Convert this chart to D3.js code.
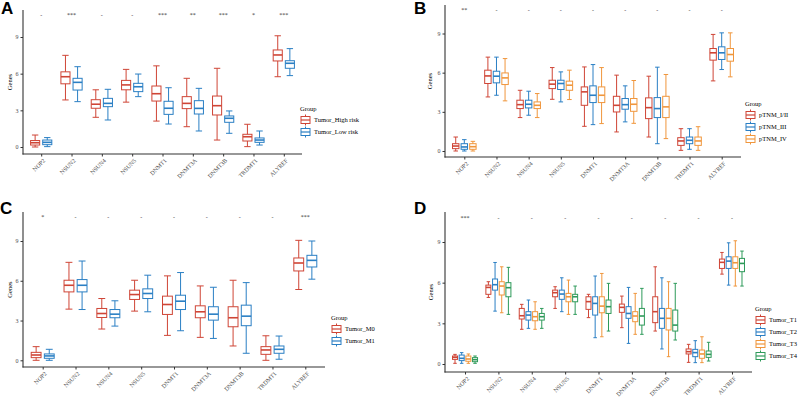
<!DOCTYPE html>
<html>
<head>
<meta charset="utf-8">
<script src="https://cdn.jsdelivr.net/npm/d3@7"></script>
<style>
  body { margin: 0; background: #fff; }
  text { font-family: "Liberation Serif", "Times New Roman", serif; }
</style>
</head>
<body>
<script>
// genes on the x axis, shared by all four panels
const genes = ["NOP2", "NSUN2", "NSUN4", "NSUN5", "DNMT1", "DNMT3A", "DNMT3B", "TRDMT1", "ALYREF"];
const yTicks = [0, 3, 6, 9];

// each row: [lower whisker, Q1, median, Q3, upper whisker]
// A: risk group
const highRisk = [[0, 0.16, 0.35, 0.53, 0.98], [3.85, 5.17, 5.75, 6.15, 7.5], [2.43, 3.17, 3.5, 3.87, 4.68],
  [3.67, 4.68, 5.08, 5.45, 6.35], [2.12, 3.76, 4.36, 4.99, 6.64], [1.66, 3.14, 3.57, 4.12, 5.62],
  [0.57, 2.62, 3.38, 4.17, 6.44], [0.03, 0.49, 0.84, 1.04, 1.86], [5.75, 7.04, 7.53, 7.94, 9.1]];
const lowRisk = [[0.03, 0.19, 0.38, 0.57, 0.77], [3.71, 4.66, 5.29, 5.62, 6.57], [2.21, 3.3, 3.57, 3.98, 4.72],
  [4.12, 4.53, 4.93, 5.21, 5.97], [1.88, 2.67, 3.17, 3.74, 4.85], [1.31, 2.7, 3.16, 3.79, 4.8],
  [1.12, 2.02, 2.35, 2.54, 2.95], [0.16, 0.38, 0.57, 0.74, 1.31], [5.84, 6.44, 6.85, 7.06, 8.05]];
const sigA = ["-", "***", "-", "-", "***", "**", "***", "*", "***"];

// B: pTNM stage
const tnmI_II = [[0, 0.18, 0.38, 0.56, 1.07], [4.14, 5.17, 5.75, 6.19, 7.19], [2.56, 3.25, 3.55, 3.89, 4.65],
  [3.96, 4.78, 5.12, 5.42, 6.39], [1.89, 3.5, 4.53, 4.91, 6.44], [1.46, 2.99, 3.5, 4.19, 5.81],
  [1.07, 2.48, 3.32, 4.07, 5.73], [0.05, 0.43, 0.77, 1.02, 1.71], [5.37, 6.96, 7.52, 7.85, 8.93]];
const tnmIII = [[0, 0.13, 0.31, 0.56, 0.87], [4.27, 5.22, 5.73, 6.11, 7.19], [2.74, 3.3, 3.58, 3.89, 4.58],
  [3.76, 4.71, 5.17, 5.42, 6.06], [2.02, 3.71, 4.27, 4.99, 6.62], [2.23, 3.2, 3.55, 4.02, 4.99],
  [0.56, 2.56, 3.25, 4.09, 6.42], [0.13, 0.56, 0.82, 1.07, 1.71], [6.24, 7.01, 7.52, 7.98, 9.05]];
const tnmIV = [[0, 0.13, 0.33, 0.56, 0.74], [3.84, 5.09, 5.6, 5.98, 7.08], [2.56, 3.25, 3.5, 3.76, 4.4],
  [3.94, 4.65, 5.04, 5.35, 6.19], [2.1, 3.71, 4.27, 4.91, 6.39], [2.12, 3.04, 3.58, 4.02, 5.4],
  [0.95, 2.56, 3.38, 4.19, 5.86], [0.05, 0.43, 0.77, 1.07, 1.86], [5.68, 6.88, 7.39, 7.85, 9.05]];
const sigB = ["**", "-", "-", "-", "-", "-", "-", "-", "-"];

// C: M stage
const tumorM0 = [[0, 0.2, 0.4, 0.6, 1.03], [3.86, 5.16, 5.66, 6.04, 7.39], [2.36, 3.23, 3.53, 3.91, 4.66],
  [3.71, 4.59, 4.96, 5.29, 6.04], [1.88, 3.46, 4.21, 4.84, 6.37], [1.73, 3.21, 3.66, 4.11, 5.61],
  [1.08, 2.53, 3.21, 4.04, 6.04], [0, 0.45, 0.78, 1.03, 1.85], [5.34, 6.74, 7.34, 7.72, 9.05]];
const tumorM1 = [[0, 0.15, 0.33, 0.48, 0.83], [3.83, 5.16, 5.66, 6.09, 7.49], [2.58, 3.21, 3.48, 3.83, 4.49],
  [3.66, 4.66, 5.04, 5.39, 6.42], [2.23, 3.83, 4.46, 4.91, 6.62], [1.65, 3.03, 3.48, 4.04, 5.51],
  [0.53, 2.61, 3.33, 4.16, 5.86], [0.08, 0.53, 0.83, 1.08, 1.83], [6.12, 7.04, 7.54, 7.92, 9.0]];
const sigC = ["*", "-", "-", "-", "-", "-", "-", "-", "***"];

// D: T stage
const tumorT1 = [[0.05, 0.34, 0.49, 0.59, 0.71], [4.91, 5.14, 5.65, 5.82, 6.07], [2.56, 3.32, 3.56, 4.1, 4.4],
  [4.1, 4.96, 5.26, 5.45, 5.7], [3.42, 4.03, 4.6, 4.96, 5.14], [2.68, 3.81, 4.18, 4.42, 5.01],
  [2.43, 3.05, 3.86, 4.96, 7.17], [0.12, 0.74, 0.91, 1.11, 1.45], [6.63, 7.05, 7.5, 7.74, 8.23]];
const tumorT2 = [[0.05, 0.25, 0.42, 0.66, 0.84], [3.9, 5.45, 5.85, 6.27, 7.49], [2.63, 3.24, 3.61, 3.86, 4.72],
  [3.86, 4.77, 5.16, 5.45, 6.36], [1.94, 3.61, 4.47, 4.96, 6.49], [1.52, 3.37, 3.73, 4.23, 5.65],
  [1.11, 2.63, 3.37, 4.1, 6.36], [0.1, 0.54, 0.84, 1.08, 1.72], [5.82, 7.05, 7.59, 7.91, 8.94]];
const tumorT3 = [[0.05, 0.2, 0.37, 0.59, 0.74], [3.78, 5.09, 5.75, 6.07, 7.17], [2.56, 3.19, 3.49, 3.86, 4.59],
  [3.66, 4.59, 4.96, 5.21, 6.19], [2.01, 3.78, 4.27, 4.96, 6.68], [2.19, 3.12, 3.54, 3.86, 5.21],
  [0.54, 2.51, 3.37, 4.1, 6.07], [0.1, 0.42, 0.74, 1.03, 2.01], [5.75, 7.05, 7.47, 7.91, 9.09]];
const tumorT4 = [[0.05, 0.17, 0.32, 0.47, 0.59], [3.66, 4.96, 5.63, 6.0, 7.13], [2.63, 3.24, 3.49, 3.73, 4.1],
  [3.66, 4.59, 4.96, 5.14, 5.75], [2.43, 3.73, 4.23, 4.72, 5.95], [2.19, 2.87, 3.54, 4.1, 5.58],
  [1.77, 2.43, 2.87, 3.98, 5.95], [0.22, 0.49, 0.71, 0.96, 1.6], [5.75, 6.81, 7.42, 7.79, 8.33]];
const sigD = ["***", "-", "-", "-", "-", "-", "-", "-", "-"];

const red = "#cf4536", blue = "#2a7fc4", orange = "#f0963c", green = "#2e9a5a";

// layout of the four panels (pixel frame of each plot area)
const panels = [
  { tag: "A", left: 23, right: 302, top: 10, bottom: 154, y0: 147, y9: 37, sig: sigA,
    groups: ["Tumor_High risk", "Tumor_Low risk"], series: [highRisk, lowRisk], colors: [red, blue],
    tagX: 1, tagY: 14, titleX: 12, legX: 300, legY: 111 },
  { tag: "B", left: 445, right: 741, top: 5, bottom: 157, y0: 151, y9: 33.5, sig: sigB,
    groups: ["pTNM_I/II", "pTNM_III", "pTNM_IV"], series: [tnmI_II, tnmIII, tnmIV], colors: [red, blue, orange],
    tagX: 414, tagY: 14, titleX: 432, legX: 745, legY: 106 },
  { tag: "C", left: 23, right: 325, top: 212, bottom: 367, y0: 360.3, y9: 241, sig: sigC,
    groups: ["Tumor_M0", "Tumor_M1"], series: [tumorM0, tumorM1], colors: [red, blue],
    tagX: 0, tagY: 214, titleX: 12, legX: 331, legY: 320 },
  { tag: "D", left: 445, right: 752, top: 212, bottom: 372, y0: 364, y9: 242, sig: sigD,
    groups: ["Tumor_T1", "Tumor_T2", "Tumor_T3", "Tumor_T4"], series: [tumorT1, tumorT2, tumorT3, tumorT4],
    colors: [red, blue, orange, green],
    tagX: 414, tagY: 214, titleX: 433, legX: 755, legY: 311 }
];

const svg = d3.select("body").append("svg")
  .attr("width", 800)
  .attr("height", 399);

function drawPanel(p) {
  const g = svg.append("g");

  const x = d3.scalePoint().domain(genes).range([p.left, p.right]).padding(0.6);
  const step = x.step();
  const k = p.groups.length;
  const dodge = d3.scaleBand().domain(d3.range(k)).range([-0.4 * step, 0.4 * step]);
  const boxW = 0.6 * step / k;
  const y = d3.scaleLinear().domain([0, 9]).range([p.y0, p.y9]);

  // axes
  const yAxis = g.append("g")
    .attr("transform", `translate(${p.left},0)`)
    .call(d3.axisLeft(y).tickValues(yTicks).tickSize(2.5).tickPadding(2));
  yAxis.select(".domain").remove();
  yAxis.selectAll("line").attr("stroke", "#333");
  yAxis.selectAll("text").attr("fill", "#4d4d4d").style("font-size", "6px")
    .style("font-family", "Liberation Serif, serif");

  const xAxis = g.append("g")
    .attr("transform", `translate(0,${p.bottom})`)
    .call(d3.axisBottom(x).tickSize(2.5));
  xAxis.select(".domain").remove();
  xAxis.selectAll("line").attr("stroke", "#333");
  xAxis.selectAll("text")
    .attr("fill", "#4d4d4d")
    .style("font-size", "6px")
    .style("font-family", "Liberation Serif, serif")
    .attr("y", 0).attr("dy", "0.71em")
    .attr("text-anchor", "end")
    .attr("transform", "translate(1,4) rotate(-45)");

  g.append("line").attr("x1", p.left).attr("x2", p.left).attr("y1", p.top).attr("y2", p.bottom + 0.5)
    .attr("stroke", "#333").attr("stroke-width", 1.1);
  g.append("line").attr("x1", p.left - 0.5).attr("x2", p.right).attr("y1", p.bottom).attr("y2", p.bottom)
    .attr("stroke", "#333").attr("stroke-width", 1.1);

  g.append("text")
    .attr("transform", `translate(${p.titleX},${(p.top + p.bottom) / 2}) rotate(-90)`)
    .attr("text-anchor", "middle")
    .style("font-size", "6.5px")
    .text("Genes");

  // boxes
  p.series.forEach((rows, j) => {
    const col = p.colors[j];
    const grp = g.append("g").attr("stroke", col).attr("fill", "none");
    rows.forEach((s, i) => {
      const cx = x(genes[i]) + dodge(j) + dodge.bandwidth() / 2;
      const cap = boxW * 0.7;
      grp.append("line").attr("x1", cx).attr("x2", cx).attr("y1", y(s[4])).attr("y2", y(s[3])).attr("stroke-width", 1);
      grp.append("line").attr("x1", cx).attr("x2", cx).attr("y1", y(s[1])).attr("y2", y(s[0])).attr("stroke-width", 1);
      grp.append("line").attr("x1", cx - cap / 2).attr("x2", cx + cap / 2).attr("y1", y(s[4])).attr("y2", y(s[4])).attr("stroke-width", 1);
      grp.append("line").attr("x1", cx - cap / 2).attr("x2", cx + cap / 2).attr("y1", y(s[0])).attr("y2", y(s[0])).attr("stroke-width", 1);
      grp.append("rect")
        .attr("x", cx - boxW / 2).attr("width", boxW)
        .attr("y", y(s[3])).attr("height", y(s[1]) - y(s[3]))
        .attr("stroke-width", 1);
      grp.append("line").attr("x1", cx - boxW / 2).attr("x2", cx + boxW / 2)
        .attr("y1", y(s[2])).attr("y2", y(s[2])).attr("stroke-width", 1.6);
    });
  });

  // significance marks
  g.selectAll(".sig").data(p.sig).enter().append("text")
    .attr("x", (d, i) => x(genes[i]))
    .attr("y", y(10.8))
    .attr("dy", "0.35em")
    .attr("text-anchor", "middle")
    .attr("fill", "#333")
    .style("font-size", "6px")
    .text(d => d);

  // legend
  const leg = g.append("g").attr("transform", `translate(${p.legX},${p.legY})`);
  leg.append("text").style("font-size", "6.5px").text("Group");
  p.groups.forEach((name, j) => {
    const cy = 9 + j * 12;
    const col = p.colors[j];
    const key = leg.append("g").attr("stroke", col).attr("fill", "none");
    key.append("rect").attr("x", 1).attr("y", cy - 3.5).attr("width", 9).attr("height", 7).attr("stroke-width", 1);
    key.append("line").attr("x1", 1).attr("x2", 10).attr("y1", cy).attr("y2", cy).attr("stroke-width", 1.2);
    key.append("line").attr("x1", 5.5).attr("x2", 5.5).attr("y1", cy - 5.5).attr("y2", cy - 3.5);
    key.append("line").attr("x1", 5.5).attr("x2", 5.5).attr("y1", cy + 3.5).attr("y2", cy + 5.5);
    leg.append("text").attr("x", 14).attr("y", cy).attr("dy", "0.35em")
      .style("font-size", "6.5px").text(name);
  });

  // panel tag
  svg.append("text")
    .attr("x", p.tagX).attr("y", p.tagY)
    .style("font-family", "Liberation Sans, Arial, sans-serif")
    .style("font-weight", "bold")
    .style("font-size", "17px")
    .text(p.tag);
}

panels.forEach(drawPanel);
</script>
</body>
</html>
